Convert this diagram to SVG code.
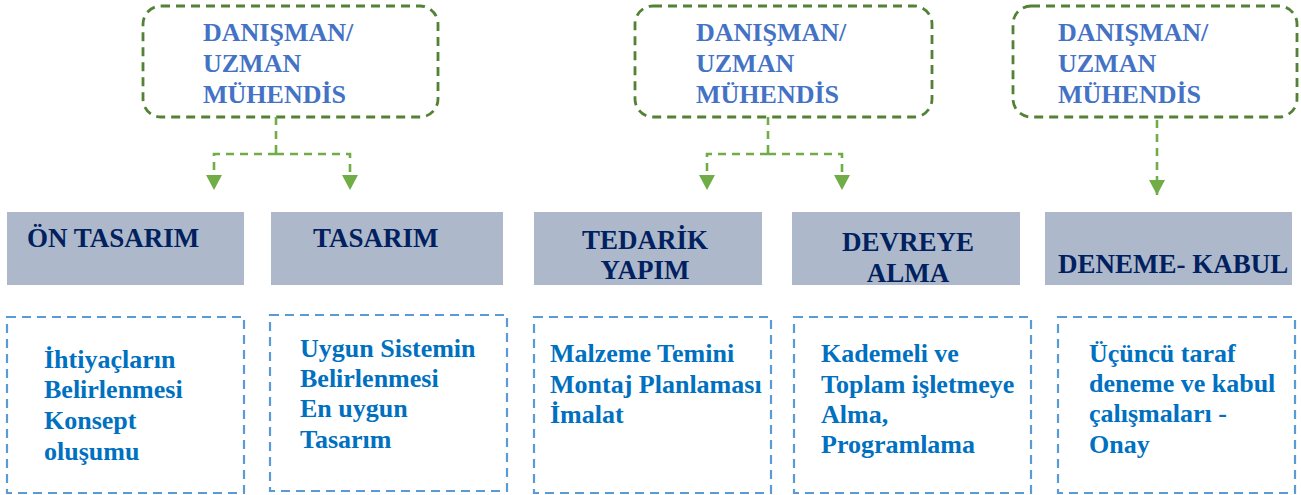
<svg xmlns="http://www.w3.org/2000/svg" width="1301" height="495" viewBox="0 0 1301 495">
<defs>
<marker id="ah" markerUnits="userSpaceOnUse" markerWidth="16" markerHeight="16" viewBox="0 0 16 16" refX="15" refY="8" orient="auto">
<path d="M0,0 L15,8 L0,16 Z" fill="#70AD47"/>
</marker>
<style>
text{font-family:'Liberation Serif','Times New Roman',Times,'DejaVu Serif',serif;font-weight:700;font-size:26px}
.exp{fill:none;stroke:#538135;stroke-width:2.8;stroke-dasharray:9 6}
.exptxt{fill:#4472C4}
.phase{fill:#ADB9CA}
.phtxt{fill:#002060;font-size:27px}
.det{fill:none;stroke:#5B9BD5;stroke-width:2.2;stroke-dasharray:9 6}
.dettxt{fill:#0070C0}
.con{fill:none;stroke:#70AD47;stroke-width:2.6;stroke-dasharray:8 6}
</style>
</defs>
<rect width="1301" height="495" fill="#ffffff"/>

<g id="expert1">
<rect class="exp" x="143" y="6" width="295" height="111" rx="18"/>
<text class="exptxt" x="203" y="41">DANIŞMAN/</text>
<text class="exptxt" x="203" y="72">UZMAN</text>
<text class="exptxt" x="203" y="103">MÜHENDİS</text>
</g>
<g id="expert2">
<rect class="exp" x="635" y="6" width="297" height="111" rx="18"/>
<text class="exptxt" x="696" y="41">DANIŞMAN/</text>
<text class="exptxt" x="696" y="72">UZMAN</text>
<text class="exptxt" x="696" y="103">MÜHENDİS</text>
</g>
<g id="expert3">
<rect class="exp" x="1013" y="6" width="284" height="111" rx="18"/>
<text class="exptxt" x="1058" y="41">DANIŞMAN/</text>
<text class="exptxt" x="1058" y="72">UZMAN</text>
<text class="exptxt" x="1058" y="103">MÜHENDİS</text>
</g>

<g id="connectors">
<path class="con" d="M276,117 V154"/>
<path class="con" d="M276,154 H214 V190" marker-end="url(#ah)"/>
<path class="con" d="M276,154 H350 V190" marker-end="url(#ah)"/>
<path class="con" d="M768,117 V154"/>
<path class="con" d="M768,154 H707 V190" marker-end="url(#ah)"/>
<path class="con" d="M768,154 H842 V190" marker-end="url(#ah)"/>
<path class="con" d="M1157,120 V195" marker-end="url(#ah)"/>
</g>

<g id="phase1">
<rect class="phase" x="7" y="212" width="237" height="73"/>
<text class="phtxt" x="27" y="247">ÖN TASARIM</text>
</g>
<g id="phase2">
<rect class="phase" x="271" y="212" width="232" height="73"/>
<text class="phtxt" x="313" y="247">TASARIM</text>
</g>
<g id="phase3">
<rect class="phase" x="534" y="212" width="228" height="73"/>
<text class="phtxt" x="645" y="249" text-anchor="middle">TEDARİK</text>
<text class="phtxt" x="645" y="279" text-anchor="middle">YAPIM</text>
</g>
<g id="phase4">
<rect class="phase" x="792" y="212" width="228" height="73"/>
<text class="phtxt" x="908" y="251" text-anchor="middle">DEVREYE</text>
<text class="phtxt" x="908" y="282" text-anchor="middle">ALMA</text>
</g>
<g id="phase5">
<rect class="phase" x="1045" y="212" width="247" height="73"/>
<text class="phtxt" x="1058" y="273">DENEME- KABUL</text>
</g>

<g id="detail1">
<rect class="det" x="7" y="317" width="237" height="176"/>
<text class="dettxt" x="44" y="368">İhtiyaçların</text>
<text class="dettxt" x="44" y="398">Belirlenmesi</text>
<text class="dettxt" x="44" y="429">Konsept</text>
<text class="dettxt" x="44" y="460">oluşumu</text>
</g>
<g id="detail2">
<rect class="det" x="270" y="315" width="237" height="176"/>
<text class="dettxt" x="300" y="357">Uygun Sistemin</text>
<text class="dettxt" x="300" y="387">Belirlenmesi</text>
<text class="dettxt" x="300" y="417">En uygun</text>
<text class="dettxt" x="300" y="448">Tasarım</text>
</g>
<g id="detail3">
<rect class="det" x="534" y="317" width="237" height="176"/>
<text class="dettxt" x="550" y="362">Malzeme Temini</text>
<text class="dettxt" x="550" y="393">Montaj Planlaması</text>
<text class="dettxt" x="550" y="423">İmalat</text>
</g>
<g id="detail4">
<rect class="det" x="794" y="317" width="237" height="176"/>
<text class="dettxt" x="821" y="362">Kademeli ve</text>
<text class="dettxt" x="821" y="393">Toplam işletmeye</text>
<text class="dettxt" x="821" y="423">Alma,</text>
<text class="dettxt" x="821" y="453">Programlama</text>
</g>
<g id="detail5">
<rect class="det" x="1058" y="317" width="237" height="176"/>
<text class="dettxt" x="1089" y="362">Üçüncü taraf</text>
<text class="dettxt" x="1089" y="392">deneme ve kabul</text>
<text class="dettxt" x="1089" y="422">çalışmaları -</text>
<text class="dettxt" x="1089" y="453">Onay</text>
</g>
</svg>
